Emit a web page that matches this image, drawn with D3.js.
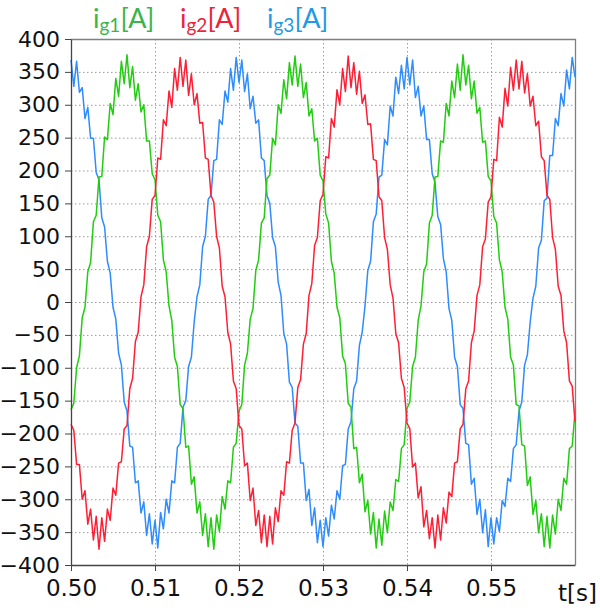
<!DOCTYPE html>
<html>
<head>
<meta charset="utf-8">
<script src="https://cdn.jsdelivr.net/npm/d3@7"></script>
<style>
  body { margin: 0; background: #fff; }
  svg { display: block; }
</style>
</head>
<body>
<div class="container"></div>
<script>
// sampled currents, one value every 1/3 ms from t = 0.50 s to 0.56 s
const tStart = 0.50;
const tEnd = 0.56;

const ig1 = [
  -164,-154,-100,-82,-24,-8,46,60,122,132,190,191,251,247,302,
  285,340,313,366,332,376,326,358,307,332,289,300,245,245,195,
  186,132,122,64,46,-6,-28,-84,-98,-156,-162,-221,-219,-277,-266,
  -321,-304,-355,-322,-372,-328,-376,-324,-349,-296,-315,-272,-275,-221,-215,
  -166,-156,-96,-78,-26,-10,48,64,120,128,188,193,249,239,300,
  287,338,309,364,330,374,328,362,311,334,283,294,245,249,193,
  184,134,120,62,44,-8,-24,-82,-94,-154,-160,-223,-221,-275,-262,
  -319,-302,-353,-320,-374,-330,-370,-318,-351,-304,-317,-270,-273,-223,-217,
  -162,-152,-98,-84,-28,-6,46,58,120,132,190,191,245,243,302,
  283,336,311,362,322,376,330,360,309,336,287,296,243,245,191,
  184,130,120,64,46,-8,-26,-84,-96,-156,-158,-217,-219,-279,-266,
  -323,-302,-351,-322,-372,-326,-374,-324,-353,-300,-317,-268,-277,-223,-219,
  -168
];

const ig2 = [
  -186,-195,-247,-247,-300,-287,-338,-315,-362,-326,-376,-328,-364,-315,-332,
  -283,-294,-245,-243,-193,-188,-132,-116,-60,-46,8,26,84,100,156,
  162,219,217,277,268,321,296,355,322,372,328,368,314,347,300,
  317,272,273,219,217,162,152,100,82,24,8,-46,-64,-120,-132,
  -188,-193,-249,-245,-302,-283,-340,-317,-366,-324,-372,-326,-368,-313,-334,
  -287,-294,-243,-245,-195,-184,-130,-118,-64,-48,10,28,86,98,154,
  164,221,219,279,266,323,300,355,320,374,326,364,316,351,302,
  315,270,271,217,215,160,154,98,80,26,6,-48,-62,-116,-130,
  -184,-193,-251,-245,-298,-281,-342,-317,-360,-328,-374,-324,-362,-313,-336,
  -289,-296,-245,-243,-193,-186,-132,-120,-62,-44,10,26,84,96,152,
  160,217,215,281,266,325,298,357,322,368,324,366,318,347,298,
  313,268,275,221,215,162,156,98,80,24,10,-44,-62,-120,-128,
  -182
];

const ig3 = [
  368,328,366,319,326,279,296,249,249,197,186,128,114,62,44,
  -8,-26,-78,-96,-152,-166,-219,-221,-275,-272,-321,-304,-355,-322,-368,
  -332,-374,-320,-345,-300,-321,-272,-275,-221,-215,-160,-150,-98,-84,-30,
  8,26,84,100,156,162,215,217,277,270,321,304,355,322,372,
  334,368,320,347,294,313,272,277,219,215,162,150,98,84,30,
  10,-48,-64,-122,-130,-184,-189,-245,-245,-302,-285,-340,-313,-366,-332,
  -372,-328,-356,-309,-330,-287,-300,-249,-247,-193,-182,-132,-120,-66,-46,
  -6,48,62,122,134,190,193,247,239,298,283,342,317,360,324,
  372,330,368,311,328,283,298,247,247,195,182,130,118,66,46,
  -10,-28,-84,-98,-156,-162,-215,-217,-277,-268,-323,-300,-351,-316,-372,
  -328,-368,-328,-349,-302,-311,-268,-273,-223,-217,-166,-152,-96,-80,-30,
  6,24,82,94,154,158,223,223,279,268,317,298,353,324,372,
  342
];

const xTicks = [0.50, 0.51, 0.52, 0.53, 0.54, 0.55];
const yTicks = [-400, -350, -300, -250, -200, -150, -100, -50, 0, 50, 100, 150, 200, 250, 300, 350, 400];

const seriesNames = ["1", "2", "3"];
const seriesColors = ["#22cc11", "#ff1f35", "#2e8cff"];
const titleColors = ["#3bb44a", "#ec2339", "#1f9ae3"];

const width = 600;
const height = 610;
const margin = {top: 39, right: 25, bottom: 45, left: 71};

const x = d3.scaleLinear()
    .domain([tStart, tEnd])
    .range([margin.left, width - margin.right]);

const y = d3.scaleLinear()
    .domain([-400, 400])
    .range([height - margin.bottom, margin.top]);

const svg = d3.select(".container")
    .append("svg")
    .attr("width", width)
    .attr("height", height);

// dotted grid
svg.append("g")
    .attr("stroke", "#9a9a9a")
    .attr("stroke-width", 1)
    .attr("stroke-dasharray", "1.5,2.5")
  .selectAll("line")
  .data(yTicks.slice(1, -1))
  .join("line")
    .attr("x1", margin.left)
    .attr("x2", width - margin.right)
    .attr("y1", d => y(d) + 0.5)
    .attr("y2", d => y(d) + 0.5);

svg.append("g")
    .attr("stroke", "#9a9a9a")
    .attr("stroke-width", 1)
    .attr("stroke-dasharray", "1.5,2.5")
  .selectAll("line")
  .data(xTicks.slice(1))
  .join("line")
    .attr("x1", d => x(d) + 0.5)
    .attr("x2", d => x(d) + 0.5)
    .attr("y1", margin.top)
    .attr("y2", height - margin.bottom);

// frame on top and right
svg.append("path")
    .attr("fill", "none")
    .attr("stroke", "#808080")
    .attr("stroke-width", 1.3)
    .attr("d", `M${margin.left},${margin.top + 0.5}H${width - margin.right + 0.5}V${height - margin.bottom}`);

const step = (tEnd - tStart) / (ig1.length - 1);
const line = d3.line()
    .x((d, i) => x(tStart + i * step))
    .y(d => y(d));

const plot = svg.append("g");
[ig3, ig1, ig2].forEach((s, j) => {
  const idx = [2, 0, 1][j];
  plot.append("path")
      .datum(s)
      .attr("fill", "none")
      .attr("stroke", seriesColors[idx])
      .attr("stroke-width", 1.5)
      .attr("stroke-linejoin", "round")
      .attr("d", line);
});

// axes
const yAxis = svg.append("g")
    .attr("transform", `translate(${margin.left},0)`)
    .call(d3.axisLeft(y).tickValues(yTicks).tickSize(6).tickSizeOuter(0).tickPadding(5));

const xAxis = svg.append("g")
    .attr("transform", `translate(0,${height - margin.bottom})`)
    .call(d3.axisBottom(x).tickValues(xTicks).tickFormat(d3.format(".2f")).tickSize(6).tickSizeOuter(0).tickPadding(9));

[yAxis, xAxis].forEach(a => {
  a.select(".domain").attr("stroke", "#444").attr("stroke-width", 1.3);
  a.selectAll(".tick line").attr("stroke", "#444");
  a.selectAll("text")
      .attr("fill", "#111")
      .style("font-family", "'DejaVu Sans', Verdana, sans-serif");
});
yAxis.selectAll("text").style("font-size", "22px");
xAxis.selectAll("text").style("font-size", "23px");

svg.append("text")
    .attr("x", 597)
    .attr("y", 601)
    .attr("text-anchor", "end")
    .style("font-family", "'DejaVu Sans', Verdana, sans-serif")
    .style("font-size", "23px")
    .attr("fill", "#111")
    .text("t[s]");

// series titles
const titleX = [93, 180, 267];
seriesNames.forEach((n, i) => {
  const t = svg.append("text")
      .attr("x", titleX[i])
      .attr("y", 28)
      .attr("fill", titleColors[i])
      .style("font-family", "Lato, 'Open Sans', sans-serif")
      .style("font-size", "27px");
  t.append("tspan").text("i");
  t.append("tspan").attr("dy", 4).style("font-size", "19px").text("g" + n);
  t.append("tspan").attr("dy", -4).text("[A]");
});
</script>
</body>
</html>
